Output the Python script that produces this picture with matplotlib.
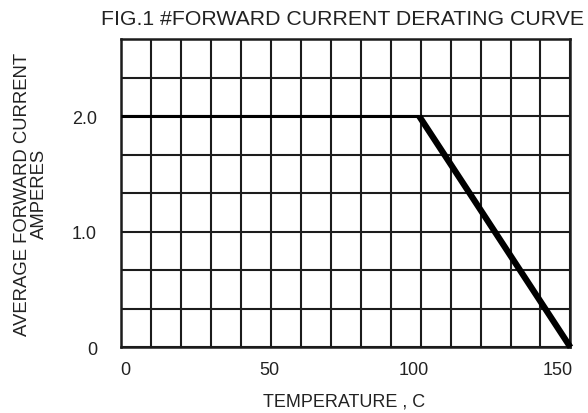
import numpy as np
import matplotlib
matplotlib.use("Agg")
import matplotlib.pyplot as plt

# derating curve
temp = [-1.5, 102, 154.5]       # deg C
current = [2.0, 2.0, 0.0]       # A

x_ticks = [0, 50, 100, 150]
x_tick_labels = ["0", "50", "100", "150"]
y_ticks = [0, 1.0, 2.0]
y_tick_labels = ["0", "1.0", "2.0"]

plt.rcParams['font.family'] = ['Liberation Sans', 'DejaVu Sans']
ink = "#1c1c1c"

fig = plt.figure(figsize=(5.88, 4.14), dpi=100)
ax = fig.add_axes([0.2053, 0.1587, 0.9702 - 0.2053, 0.9034 - 0.1587])

xmin, xmax = temp[0], temp[-1]
ymin, ymax = 0, 8 / 3
ax.set_xlim(xmin, xmax)
ax.set_ylim(ymin, ymax)

# grid: 15 columns, 8 rows (keep minor lines that sit on major ticks)
ax.xaxis.remove_overlapping_locs = False
ax.yaxis.remove_overlapping_locs = False
ax.set_xticks(np.linspace(xmin, xmax, 16), minor=True)
ax.set_yticks(np.linspace(ymin, ymax, 9), minor=True)
ax.grid(which="minor", color=ink, linewidth=1.5)
ax.tick_params(which="minor", length=0)

ax.set_xticks(x_ticks)
ax.set_xticklabels(x_tick_labels)
ax.set_yticks(y_ticks)
ax.set_yticklabels(y_tick_labels)
ax.tick_params(which="major", length=0, labelsize=13, colors="#222222")
ax.tick_params(axis="x", pad=10)
ax.tick_params(axis="y", pad=17)

for s in ax.spines.values():
    s.set_color(ink)
    s.set_linewidth(1.8)

ax.plot(temp[:2], current[:2], color="black", lw=2.2, solid_capstyle="butt", zorder=3, clip_on=False)
ax.plot(temp[1:], current[1:], color="black", lw=4.5, solid_capstyle="butt", zorder=3, clip_on=False)

fig.text(342.7 / 588, 1 - 19.7 / 414, "FIG.1 #FORWARD CURRENT DERATING CURVE",
         ha="center", va="center", fontsize=15.3, color="#222222")
fig.text(343.7 / 588, 1 - 402 / 414, "TEMPERATURE , C",
         ha="center", va="center", fontsize=13, color="#222222")
fig.text(31 / 588, 1 - 194 / 414, "AVERAGE FORWARD CURRENT\nAMPERES",
         ha="center", va="center", rotation=90, fontsize=13.3,
         linespacing=1.05, multialignment="center", color="#222222")

fig.savefig("out.png", dpi=100)
